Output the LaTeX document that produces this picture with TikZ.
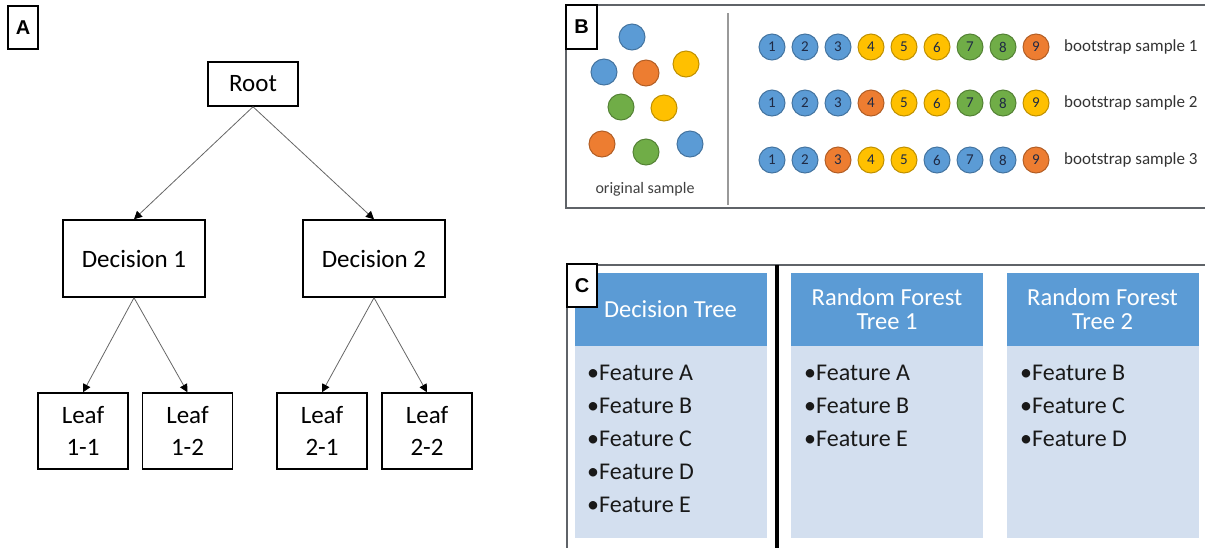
\documentclass[tikz,border=0pt]{standalone}
\usepackage{fontspec}
\setmainfont{Carlito}
\newfontfamily\panelfont{Liberation Sans}
\usepackage{tikz}
\usetikzlibrary{arrows.meta, positioning}
\definecolor{bsb}{HTML}{5B9BD5}
\definecolor{bso}{HTML}{ED7D31}
\definecolor{bsy}{HTML}{FFC000}
\definecolor{bsg}{HTML}{70AD47}
\definecolor{numnavy}{HTML}{1F2A44}
\definecolor{framegray}{HTML}{5F6368}
\definecolor{hdrblue}{HTML}{5B9BD5}
\definecolor{bodyblue}{HTML}{D3DFEF}

\begin{document}
\begin{tikzpicture}[x=1pt, y=-1pt]
\tikzstyle{panel} = [draw, line width=1.2pt, fill=white, inner sep=0pt, font=\panelfont\bfseries\fontsize{20}{20}\selectfont]
\tikzstyle{box} = [draw, line width=1.5pt, inner sep=0pt, align=center, font=\fontsize{25}{32}\selectfont]
\tikzstyle{arr} = [-{Triangle[length=8pt, width=8pt, color=black]}, draw=black!60, line width=0.8pt]
\tikzstyle{ball} = [circle, line width=1pt, minimum size=26pt, inner sep=0pt, text=numnavy, font=\fontsize{15}{15}\selectfont]
\tikzstyle{hdr} = [fill=hdrblue, minimum width=192pt, minimum height=73pt, inner sep=0pt, align=center, text=white, font=\fontsize{24.5}{24}\selectfont]
\tikzstyle{body} = [fill=bodyblue, minimum width=192pt, minimum height=192pt, inner sep=0pt]
\tikzstyle{feat} = [anchor=west, inner sep=0pt, text=black!90, font=\fontsize{24}{24}\selectfont]
\useasboundingbox (0,0) rectangle (1205,547);

% A: decision tree
\node[panel, minimum width=30pt, minimum height=43pt] (labA) at (23,27.5) {A};
\node[box, minimum width=90pt, minimum height=44pt] (root) at (253,84) {Root};
\node[box, minimum width=142pt, minimum height=77pt] (d1) at (134,258.5) {Decision 1};
\node[box, minimum width=142pt, minimum height=77pt] (d2) at (374,258.5) {Decision 2};
\node[box, minimum width=90pt, minimum height=76pt] (l11) at (83,431) {Leaf\\1-1};
\node[box, minimum width=90pt, minimum height=76pt] (l12) at (187.5,431) {Leaf\\1-2};
\node[box, minimum width=90pt, minimum height=76pt] (l21) at (322,431) {Leaf\\2-1};
\node[box, minimum width=90pt, minimum height=76pt] (l22) at (427,431) {Leaf\\2-2};
\draw[arr] (root.south) -- (d1.north);
\draw[arr] (root.south) -- (d2.north);
\draw[arr] (d1.south) -- (l11.north);
\draw[arr] (d1.south) -- (l12.north);
\draw[arr] (d2.south) -- (l21.north);
\draw[arr] (d2.south) -- (l22.north);

% B: bootstrap samples
\draw[framegray, line width=1.5pt] (1206,5) -- (566,5) -- (566,208) -- (1206,208);
\draw[black!40, line width=1.2pt] (728,13) -- (728,205);
\node[panel, minimum width=31pt, minimum height=44pt] (labB) at (581.5,27) {B};
\foreach \c/\x/\y [count=\k] in {b/632/37, b/604/72, o/646/73, y/686/64, g/621/107, y/664/108, o/602/144, g/646/152, b/690/144} {
    \node[ball, fill=bs\c, draw=bs\c!75!black] (orig\k) at (\x,\y) {};
}
\node[text=black!75, font=\fontsize{16}{16}\selectfont] (origtxt) at (645,189) {original sample};
\foreach \row/\y/\cols in {1/47/{b,b,b,y,y,y,g,g,o}, 2/103/{b,b,b,o,y,y,g,g,y}, 3/160/{b,b,o,y,y,b,b,b,o}} {
    \foreach \c [count=\i] in \cols {
        \node[ball, fill=bs\c, draw=bs\c!75!black] (s\row\i) at ({739+33*\i},\y) {\i};
    }
    \node[anchor=west, inner sep=0pt, text=black!80, font=\fontsize{17}{17}\selectfont] (bs\row) at (1064,\y) {bootstrap sample \row};
}

% C: decision tree vs random forest
\draw[framegray, line width=1.5pt] (1206,265) -- (567,265) -- (567,548);
\node[hdr] (dt) at (670.5,309.5) {Decision Tree};
\node[hdr] (rf1) at (887,309.5) {Random Forest\\Tree 1};
\node[hdr] (rf2) at (1102.5,309.5) {Random Forest\\Tree 2};
\node[body, below=0pt of dt] (dtb) {};
\node[body, below=0pt of rf1] (rf1b) {};
\node[body, below=0pt of rf2] (rf2b) {};
\draw[black, line width=4.5pt] (777,265) -- (777,548);
\node[panel, minimum width=30pt, minimum height=43pt] (labC) at (582,285.5) {C};
\foreach \f [count=\i] in {A,B,C,D,E} {
    \node[feat] (dtf\i) at (587,{340+33*\i}) {•Feature \f};
}
\foreach \f [count=\i] in {A,B,E} {
    \node[feat] (rf1f\i) at (804,{340+33*\i}) {•Feature \f};
}
\foreach \f [count=\i] in {B,C,D} {
    \node[feat] (rf2f\i) at (1020,{340+33*\i}) {•Feature \f};
}
\end{tikzpicture}
\end{document}
